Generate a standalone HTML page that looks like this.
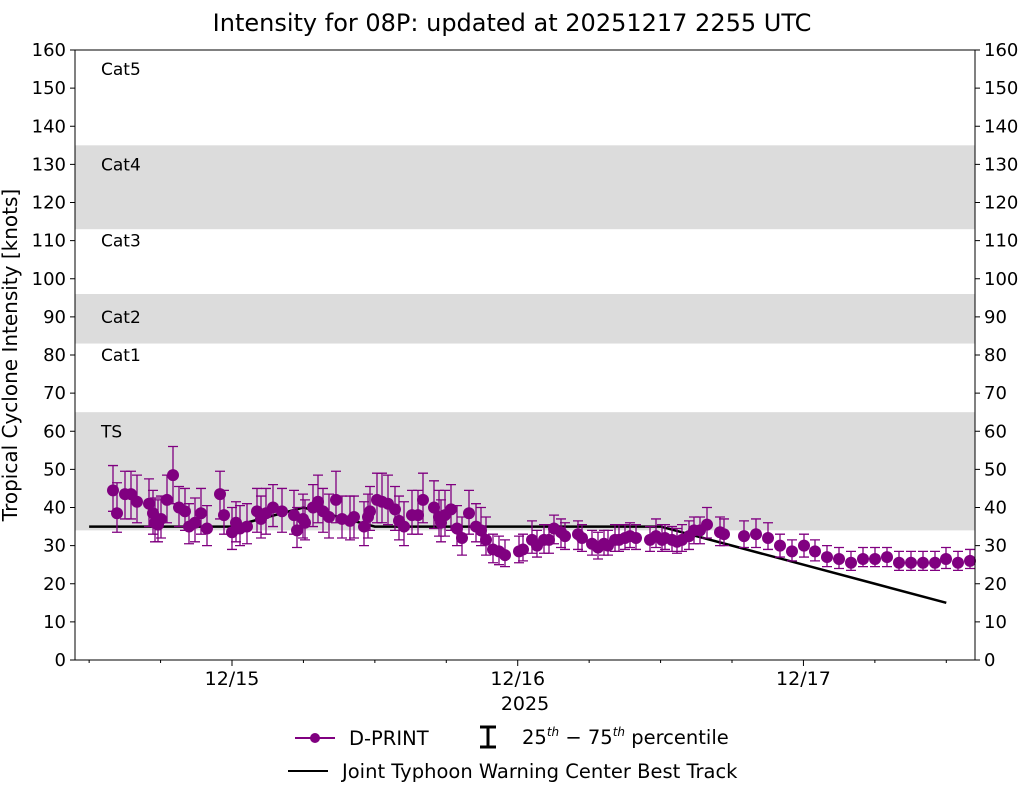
<!DOCTYPE html>
<html><head><meta charset="utf-8"><style>
body{margin:0;background:#fff;font-family:"Liberation Sans","DejaVu Sans",sans-serif}
svg text{font-family:"DejaVu Sans","Liberation Sans",sans-serif}
</style></head><body>
<svg id="c" width="1025" height="785" xmlns="http://www.w3.org/2000/svg">
<text x="512" y="31" font-size="24" text-anchor="middle">Intensity for 08P: updated at 20251217 2255 UTC</text>
<g id="plot"></g>
<text transform="translate(17,355) rotate(-90)" font-size="20" text-anchor="middle">Tropical Cyclone Intensity [knots]</text>
<text x="525" y="710" font-size="19" text-anchor="middle">2025</text>
<g>
<line x1="295" y1="738" x2="335" y2="738" stroke="#800080" stroke-width="2"/><circle cx="315" cy="738" r="5" fill="#800080"/>
<text x="349" y="745" font-size="19.5">D-PRINT</text>
<path d="M480 727h16M488 727v20M480 747h16" stroke="#000" stroke-width="3" fill="none"/>
<text x="522" y="744" font-size="19.5">25<tspan font-size="12" dy="-8" font-style="italic">th</tspan><tspan dy="8"> − 75</tspan><tspan font-size="12" dy="-8" font-style="italic">th</tspan><tspan dy="8"> percentile</tspan></text>
<line x1="288" y1="771" x2="328" y2="771" stroke="#000" stroke-width="2"/>
<text x="342" y="778" font-size="19.5">Joint Typhoon Warning Center Best Track</text>
</g>
</svg>
<script>
const px=[113,117,125,131,137,149,153,155,158,161,167,173,179,185,189,195,201,207,220,224,232,236,240,247,257,261,266,273,282,294,297,303,305,313,318,323,329,336,342,350,354,364,368,370,377,382,388,395,399,404,412,418,423,434,439,441,445,451,457,462,469,476,481,486,493,499,505,519,523,532,537,544,549,554,561,565,578,582,592,598,604,608,615,619,625,630,636,650,656,662,665,672,677,682,689,694,700,707,720,724,744,756,768,780,792,804,815,827,839,851,863,875,887,899,911,923,935,946,958,970];
const dprintHours=px.map(x=>(x-232)/11.905);
const dprintVals=[44.5,38.5,43.5,43.5,41.5,41,38.5,36,35.5,37,42,48.5,40,39,35,36,38.5,34.5,43.5,38,33.5,36,34.5,35,39,37,38.5,40,39,38,34,37,36,40,41.5,39,37.5,42,37,36.5,37.5,35,37.5,39,42,41.5,41,39.5,36.5,35,38,38,42,40,37.5,36,38,39.5,34.5,32,38.5,35,34,31.5,29,28.5,27.5,28.5,29,31.5,30,31.5,31.5,34.5,33.5,32.5,33,32,30.5,29.5,30.5,30,31.5,31.5,32,32.5,32,31.5,32.5,31.5,32,31.5,31,31.5,32.5,34,34,35.5,33.5,33,32.5,33,32,30,28.5,30,28.5,27,26.5,25.5,26.5,26.5,27,25.5,25.5,25.5,25.5,26.5,25.5,26];
const dprintLo=[39,33.5,37,37,36,35,33,31,31,32,36,41,35,34,30.5,31,33,30,37,33,29,31,30,30.5,33.5,32,33,35,33.5,33,29.5,32,31.5,35,36,33.5,32,36,32,31.5,32,30,32,34,36,36,35.5,34,31.5,30,33,33,36,34.5,32.5,31,32.5,34,30,27.5,33,31,30,27.5,25.5,25,24.5,25.5,26,28,27,28,28,30.5,29.5,29,29,28.5,27.5,26.5,27.5,27.5,28.5,28.5,29,29.5,29,28.5,29.5,28.5,29,28.5,28,28.5,29,30.5,30.5,32,30,30,29.5,29.5,29,27,26,27,26,24.5,24,23.5,24.5,24.5,24.5,23.5,23.5,23.5,23.5,24,23.5,24];
const dprintHi=[51,46.5,49.5,49.5,48.5,47.5,44.5,42.5,42,43,48.5,56,45.5,45,41,42.5,45,40.5,49.5,44.5,40,41.5,40.5,41,45,43,45,46,45,44.5,40,43.5,42,46,48.5,45,43.5,49.5,43,43,43,41.5,43.5,45.5,49,49,48.5,45.5,43,41.5,44.5,44.5,49,47,44.5,42,44.5,46,40.5,37.5,44.5,41,40,37.5,33,32.5,31.5,32.5,33,36.5,34,35.5,35.5,38,37,36,36.5,35.5,34,33.5,34,34,35.5,35.5,35.5,36,35.5,35,37,35.5,35.5,35,34.5,35.5,36.5,37.5,37.5,40,37.5,37,36.5,37,36,33,31.5,33,31.5,30,29.5,28.5,29.5,29.5,29.5,28.5,28.5,28.5,28.5,29.5,28.5,29];
const btHours=[-12,-6,0,6,12,18,24,30,36,42,48,54,60];
const btVals=[35,35,35,40,35,35,35,35,35,30,25,20,15];
const yTicks=[0,10,20,30,40,50,60,70,80,90,100,110,120,130,140,150,160];
const xMajorHours=[0,24,48];
const xMajorLabels=["12/15","12/16","12/17"];
const bands=[[34,65,"TS",60],[65,83,"Cat1",80],[83,96,"Cat2",90],[96,113,"Cat3",110],[113,135,"Cat4",130],[135,160,"Cat5",155]];
const L=75,R=975,T=50,B=660;
const X=h=>232+h*11.905, Y=v=>B-(v/160)*(B-T);
const NS="http://www.w3.org/2000/svg",g=document.getElementById('plot');
function mk(t,a,p){const e=document.createElementNS(NS,t);for(const k in a)e.setAttribute(k,a[k]);(p||g).appendChild(e);return e;}
bands.forEach((b,i)=>{
 if(i%2==0){const r=mk('rect',{x:L,y:Y(b[1]),width:R-L,height:Y(b[0])-Y(b[1]),fill:'#dcdcdc'});
 
 }
 const t=mk('text',{x:101,y:Y(b[3])+6,'font-size':17});t.textContent=b[2];
 
 
});
yTicks.forEach(v=>{
 mk('line',{x1:L-5,x2:L,y1:Y(v),y2:Y(v),stroke:'#000'});
 mk('line',{x1:R,x2:R+5,y1:Y(v),y2:Y(v),stroke:'#000'});
 const a=mk('text',{x:L-9,y:Y(v)+6,'font-size':18,'text-anchor':'end'});a.textContent=v;
 
 
 const b=mk('text',{x:R+9,y:Y(v)+6,'font-size':18});b.textContent=v;
 
 
});
for(let h=-12;h<=66;h+=6){if(X(h)<L||X(h)>R)continue;mk('line',{x1:X(h),x2:X(h),y1:B,y2:B+(h%24==0?6:3),stroke:'#000'});}
xMajorHours.forEach((h,i)=>{const t=mk('text',{x:X(h),y:B+25,'font-size':19,'text-anchor':'middle'});t.textContent=xMajorLabels[i];
 
 });
const bt=mk('polyline',{points:btHours.map((h,i)=>X(h)+','+Y(btVals[i])).join(' '),fill:'none',stroke:'#000','stroke-width':2.5});


dprintHours.forEach((h,i)=>{
 const x=X(h);
 const e=mk('path',{d:`M${x-5} ${Y(dprintHi[i])}h10M${x} ${Y(dprintHi[i])}V${Y(dprintLo[i])}M${x-5} ${Y(dprintLo[i])}h10`,stroke:'#800080','stroke-width':1.3,fill:'none'});
 
 
});
dprintHours.forEach((h,i)=>{
 const c=mk('circle',{cx:X(h),cy:Y(dprintVals[i]),r:6,fill:'#800080'});
 
 
});
const f=mk('rect',{x:L,y:T,width:R-L,height:B-T,fill:'none',stroke:'#000','stroke-width':1});


</script>
</body></html>
